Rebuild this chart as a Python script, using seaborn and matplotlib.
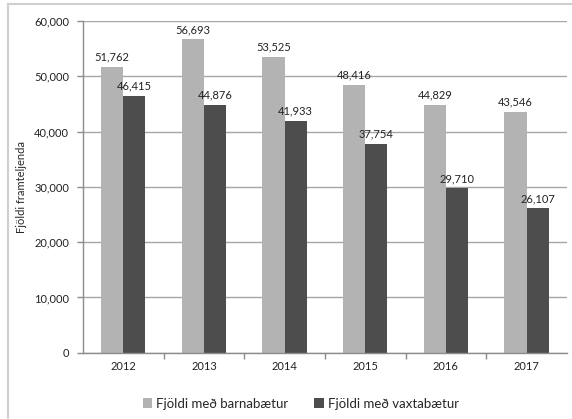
import pandas as pd
import seaborn as sns
import matplotlib.pyplot as plt
from matplotlib.patches import Rectangle

years = ['2012', '2013', '2014', '2015', '2016', '2017']
barnabaetur = [51762, 56693, 53525, 48416, 44829, 43546]
vaxtabaetur = [46415, 44876, 41933, 37754, 29710, 26107]
series = ['Fjöldi með barnabætur', 'Fjöldi með vaxtabætur']

df = pd.DataFrame({
    'year': years * 2,
    'value': barnabaetur + vaxtabaetur,
    'series': [series[0]] * len(years) + [series[1]] * len(years),
})

sns.set_style('white')
plt.rcParams['font.family'] = ['Lato', 'DejaVu Sans']

fig = plt.figure(figsize=(5.72, 4.19), dpi=100)
ax = fig.add_axes([0.145, 0.158, 0.846, 0.792])

sns.barplot(data=df, x='year', y='value', hue='series', ax=ax,
            palette=['#b3b3b3', '#4d4d4d'], width=0.55, saturation=1,
            edgecolor='none', legend=True)

for cont in ax.containers:
    ax.bar_label(cont, labels=[f'{v:,.0f}' for v in cont.datavalues],
                 fontsize=8, color='#222222', padding=3)

ax.set_ylim(0, 60000)
ax.set_yticks(range(0, 60001, 10000))
ax.set_yticklabels([f'{v:,}' for v in range(0, 60001, 10000)])
ax.yaxis.grid(True, color='#a6a6a6', linewidth=1)
ax.set_axisbelow(True)
ax.set_xlabel('')
ax.set_ylabel('Fjöldi framteljenda', fontsize=8, labelpad=5)

for s in ['top', 'right']:
    ax.spines[s].set_visible(False)
for s in ['left', 'bottom']:
    ax.spines[s].set_color('#8c8c8c')
    ax.spines[s].set_linewidth(1)

ax.tick_params(axis='both', labelsize=8, colors='#222222', length=0, pad=6)
ax.tick_params(axis='y', left=True, length=4, color='#8c8c8c', width=1)
ax.set_xlim(-0.5, len(years) - 0.5)
ax.set_xticks([i + 0.5 for i in range(len(years) - 1)], minor=True)
ax.tick_params(axis='x', which='minor', bottom=True, length=4, color='#8c8c8c', width=1)

ax.legend(loc='upper center', bbox_to_anchor=(0.45, -0.1), ncol=2, frameon=False,
          fontsize=9.5, handlelength=0.7, handleheight=0.8, handletextpad=0.3,
          columnspacing=2.0)

fig.patches.append(Rectangle((0.014, -0.01), 1.0, 1.0, transform=fig.transFigure,
                             fill=False, edgecolor='#cfcfcf', linewidth=1.5))

fig.savefig('out.png', dpi=100)
plt.close(fig)
